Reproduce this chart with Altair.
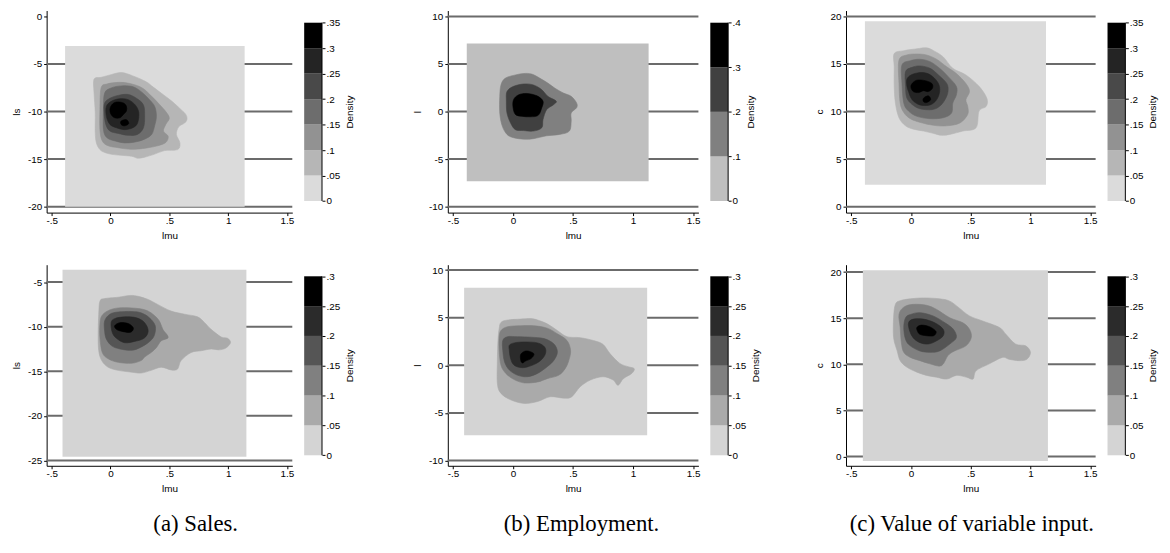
import altair as alt
import pandas as pd

# ---------------- shared axis values ----------------
X_TICKS = [-0.5, 0, 0.5, 1, 1.5]
X_DOMAIN = [-0.543, 1.545]
X_TITLE = "lmu"

LEVELS_35 = [0, 0.05, 0.1, 0.15, 0.2, 0.25, 0.3, 0.35]
LEVELS_40 = [0, 0.1, 0.2, 0.3, 0.4]
LEVELS_30 = [0, 0.05, 0.1, 0.15, 0.2, 0.25, 0.3]

GREYS_7 = ["#dbdbdb", "#b6b6b6", "#929292", "#6d6d6d", "#494949", "#242424", "#000000"]
GREYS_4 = ["#bfbfbf", "#808080", "#404040", "#000000"]
GREYS_6 = ["#d4d4d4", "#aaaaaa", "#808080", "#555555", "#2b2b2b", "#000000"]

CAPTIONS = ["(a) Sales.", "(b) Employment.", "(c) Value of variable input."]
Y_TITLES = ["ls", "l", "c"]

# ---------------- panel (a) top : ls ----------------
A_YTICKS = [0, -5, -10, -15, -20]
A_GRID = [-5, -10, -15, -20]
A_YDOM = [-20.625, 0.625]
A_RECT = [-0.386, 1.14, -20.0, -3.1]
A_C1 = [(-0.14, -6.6), (-0.08, -6.4), (0.01, -6.1), (0.08, -5.9), (0.135, -6.0), (0.19, -6.25), (0.26, -6.6),
        (0.32, -7.0), (0.36, -7.4), (0.43, -8.05), (0.52, -8.9), (0.60, -9.8), (0.64, -10.3), (0.65, -10.8),
        (0.63, -11.2), (0.58, -11.6), (0.56, -12.4), (0.59, -13.3), (0.57, -14.0), (0.46, -14.1), (0.37, -14.5),
        (0.29, -14.8), (0.23, -14.9), (0.18, -14.7), (0.09, -14.6), (0.01, -14.5), (-0.05, -14.3), (-0.09, -14.0),
        (-0.12, -13.3), (-0.13, -12.2), (-0.13, -10.1), (-0.14, -8.05)]
A_C2 = [(-0.08, -7.5), (-0.03, -7.1), (0.04, -6.95), (0.12, -6.95), (0.21, -7.2), (0.28, -7.6), (0.35, -8.4),
        (0.42, -9.3), (0.47, -10.0), (0.50, -10.7), (0.47, -11.35), (0.45, -12.05), (0.49, -12.6), (0.47, -13.25),
        (0.40, -13.6), (0.32, -13.8), (0.23, -13.95), (0.15, -13.95), (0.065, -13.8), (-0.02, -13.6),
        (-0.07, -13.1), (-0.09, -11.9), (-0.09, -9.8)]
A_C3 = [(-0.05, -8.05), (0.01, -7.5), (0.09, -7.3), (0.18, -7.35), (0.25, -7.8), (0.32, -8.6), (0.375, -9.45),
        (0.39, -10.5), (0.375, -11.5), (0.35, -12.4), (0.29, -12.9), (0.21, -13.2), (0.12, -13.3), (0.04, -13.1),
        (-0.03, -12.75), (-0.06, -11.9), (-0.06, -9.8)]
A_C4 = [(-0.05, -9.1), (-0.005, -8.6), (0.065, -8.3), (0.15, -8.2), (0.22, -8.6), (0.28, -9.3), (0.29, -10.5),
        (0.28, -11.7), (0.23, -12.4), (0.15, -12.5), (0.065, -12.3), (-0.005, -12.05), (-0.04, -11.35),
        (-0.055, -10.1)]
A_C5 = [(-0.035, -9.45), (0.01, -8.9), (0.08, -8.65), (0.15, -8.75), (0.21, -9.3), (0.24, -10.1), (0.23, -11.2),
        (0.19, -11.7), (0.12, -11.9), (0.05, -11.7), (-0.005, -11.35), (-0.035, -10.5)]
A_C6A = [(0.01, -9.3), (0.05, -9.0), (0.11, -9.1), (0.135, -9.45), (0.135, -9.95), (0.11, -10.3), (0.08, -10.65),
         (0.035, -10.65), (0.005, -10.3), (-0.005, -9.8)]
A_C6B = [(0.09, -11.0), (0.135, -10.85), (0.155, -11.25), (0.12, -11.5), (0.09, -11.35)]

# ---------------- panel (b) top : l ----------------
B_YTICKS = [10, 5, 0, -5, -10]
B_GRID = [10, 5, 0, -5, -10]
B_YDOM = [-10.625, 10.625]
B_RECT = [-0.385, 1.13, -7.33, 7.15]
B_C1 = [(-0.10, 2.8), (-0.065, 3.5), (0.02, 3.85), (0.09, 4.0), (0.155, 3.95), (0.225, 3.5), (0.29, 3.0),
        (0.35, 2.45), (0.42, 1.95), (0.485, 1.6), (0.53, 0.9), (0.53, 0.4), (0.485, -0.15), (0.485, -1.0),
        (0.47, -2.05), (0.39, -2.4), (0.28, -2.55), (0.17, -2.85), (0.09, -2.9), (0.005, -2.75), (-0.05, -2.4),
        (-0.09, -1.5), (-0.11, -0.15), (-0.11, 1.6)]
B_C2 = [(-0.05, 2.1), (0.005, 2.65), (0.09, 2.9), (0.17, 2.8), (0.24, 2.3), (0.29, 1.6), (0.36, 1.1),
        (0.335, 0.7), (0.28, 0.2), (0.25, -0.85), (0.24, -1.7), (0.17, -2.05), (0.09, -2.0), (0.02, -1.9),
        (-0.02, -1.2), (-0.05, -0.15), (-0.055, 1.1)]
B_C3 = [(0.005, 1.25), (0.045, 1.75), (0.115, 1.9), (0.2, 1.65), (0.25, 1.1), (0.24, 0.4), (0.21, -0.4),
        (0.145, -0.55), (0.075, -0.5), (0.02, -0.3), (0.0, 0.5)]

# ---------------- panel (c) top : c ----------------
C_YTICKS = [20, 15, 10, 5, 0]
C_GRID = [20, 15, 10, 5, 0]
C_YDOM = [-0.625, 20.625]
C_RECT = [-0.385, 1.13, 2.3, 19.5]
C_C1 = [(-0.14, 16.1), (-0.06, 16.4), (0.05, 16.6), (0.13, 16.7), (0.19, 16.4), (0.27, 15.75), (0.35, 14.55),
        (0.46, 13.85), (0.57, 12.65), (0.635, 11.4), (0.63, 10.55), (0.57, 10.05), (0.545, 8.3), (0.435, 7.95),
        (0.325, 7.6), (0.255, 7.5), (0.19, 7.7), (0.105, 7.95), (0.02, 8.15), (-0.045, 8.5), (-0.10, 9.35),
        (-0.13, 10.9), (-0.14, 12.65), (-0.14, 14.7)]
C_C2 = [(-0.10, 15.4), (-0.035, 15.95), (0.05, 16.05), (0.13, 15.95), (0.215, 15.5), (0.30, 14.7), (0.38, 14.0),
        (0.46, 12.95), (0.49, 12.1), (0.46, 11.25), (0.475, 10.55), (0.475, 9.7), (0.41, 8.8), (0.30, 8.5),
        (0.19, 8.55), (0.08, 8.85), (-0.005, 9.25), (-0.06, 9.9), (-0.09, 10.9), (-0.10, 13.0)]
C_C3 = [(-0.075, 14.9), (-0.005, 15.35), (0.075, 15.5), (0.16, 15.25), (0.24, 14.55), (0.31, 13.7), (0.38, 12.65),
        (0.38, 11.75), (0.35, 10.9), (0.34, 9.85), (0.27, 9.35), (0.16, 9.25), (0.05, 9.5), (-0.02, 10.05),
        (-0.06, 10.9), (-0.075, 13.0)]
C_C4 = [(-0.045, 14.2), (0.01, 14.65), (0.075, 14.8), (0.16, 14.55), (0.23, 13.85), (0.30, 12.95), (0.31, 12.1),
        (0.285, 11.25), (0.24, 10.55), (0.175, 10.2), (0.075, 10.3), (0.01, 10.75), (-0.035, 11.45),
        (-0.045, 12.65)]
C_C5 = [(-0.03, 13.5), (0.02, 13.95), (0.105, 14.1), (0.175, 13.75), (0.23, 12.95), (0.24, 12.1), (0.215, 11.25),
        (0.16, 10.7), (0.075, 10.7), (0.01, 11.25), (-0.02, 12.1), (-0.035, 12.8)]
C_C6A = [(0.01, 12.95), (0.05, 13.3), (0.12, 13.25), (0.175, 12.95), (0.18, 12.45), (0.145, 12.1), (0.105, 12.2),
         (0.065, 12.0), (0.02, 12.1), (0.0, 12.55)]
C_C6B = [(0.105, 11.4), (0.145, 11.65), (0.165, 11.25), (0.13, 10.95), (0.105, 11.05)]

# ---------------- panel (a) bottom : ls ----------------
D_YTICKS = [-5, -10, -15, -20, -25]
D_GRID = [-5, -10, -15, -20, -25]
D_YDOM = [-25.6, -3.05]
D_RECT = [-0.408, 1.155, -24.6, -3.63]
D_C1 = [(-0.09, -7.15), (-0.05, -6.85), (0.065, -6.7), (0.165, -6.5), (0.235, -6.6), (0.32, -6.95), (0.40, -7.5),
        (0.515, -8.25), (0.63, -8.6), (0.74, -8.9), (0.80, -9.55), (0.855, -10.3), (0.94, -11.15), (0.995, -11.3),
        (1.02, -11.8), (0.98, -12.4), (0.92, -12.6), (0.855, -12.5), (0.77, -12.7), (0.685, -12.9), (0.60, -13.8),
        (0.57, -14.75), (0.515, -14.85), (0.43, -14.55), (0.345, -14.9), (0.26, -15.2), (0.18, -15.1),
        (0.065, -14.9), (-0.02, -14.55), (-0.075, -13.8), (-0.10, -12.7), (-0.105, -10.85), (-0.10, -8.6)]
D_C2 = [(-0.075, -8.8), (-0.02, -8.2), (0.065, -7.9), (0.18, -7.9), (0.29, -8.1), (0.36, -8.6), (0.415, -9.35),
        (0.445, -10.3), (0.49, -11.2), (0.43, -11.6), (0.39, -12.35), (0.345, -12.9), (0.29, -13.4), (0.26, -13.8),
        (0.18, -14.1), (0.065, -14.0), (-0.02, -13.6), (-0.07, -12.9), (-0.09, -11.2), (-0.09, -9.75)]
D_C3 = [(-0.05, -9.35), (-0.005, -8.6), (0.065, -8.35), (0.18, -8.3), (0.26, -8.45), (0.33, -9.0), (0.38, -9.9),
        (0.37, -11.05), (0.32, -11.8), (0.25, -12.35), (0.18, -12.65), (0.08, -12.5), (0.01, -12.15),
        (-0.035, -11.4), (-0.05, -10.5)]
D_C4 = [(0.005, -9.55), (0.035, -9.1), (0.12, -8.9), (0.22, -9.0), (0.29, -9.55), (0.32, -10.5), (0.285, -11.3),
        (0.205, -11.65), (0.12, -11.8), (0.05, -11.3), (0.015, -10.65)]
D_C5 = [(0.035, -9.9), (0.08, -9.55), (0.15, -9.65), (0.19, -10.05), (0.19, -10.4), (0.16, -10.65), (0.09, -10.5),
        (0.05, -10.3)]

# ---------------- panel (b) bottom : l ----------------
E_YTICKS = [10, 5, 0, -5, -10]
E_GRID = [10, 5, 0, -5, -10]
E_YDOM = [-10.55, 10.56]
E_RECT = [-0.407, 1.118, -7.35, 8.15]
E_C1 = [(-0.10, 4.5), (-0.045, 4.75), (0.065, 4.85), (0.15, 4.9), (0.205, 4.75), (0.285, 4.35), (0.37, 3.65),
        (0.45, 3.0), (0.56, 2.9), (0.67, 2.6), (0.75, 2.2), (0.81, 1.2), (0.89, 0.2), (0.96, -0.15), (1.01, -0.35),
        (0.99, -0.85), (0.92, -1.4), (0.875, -2.1), (0.835, -1.55), (0.75, -1.2), (0.645, -1.55), (0.56, -2.25),
        (0.49, -3.3), (0.425, -3.45), (0.31, -3.3), (0.205, -3.8), (0.095, -4.0), (-0.015, -3.65), (-0.10, -2.95),
        (-0.13, -1.9), (-0.13, 0.5), (-0.125, 2.6), (-0.115, 3.85)]
E_C2 = [(-0.10, 3.65), (-0.045, 4.05), (0.065, 4.15), (0.175, 4.15), (0.285, 3.9), (0.37, 3.3), (0.45, 2.6),
        (0.48, 1.55), (0.465, 0.5), (0.435, -0.35), (0.38, -1.05), (0.285, -1.4), (0.205, -1.75), (0.095, -1.85),
        (0.01, -1.5), (-0.06, -0.85), (-0.10, 0.0), (-0.115, 1.55), (-0.115, 2.95)]
E_C3 = [(-0.085, 2.6), (-0.045, 3.0), (0.04, 3.0), (0.15, 2.95), (0.26, 2.8), (0.34, 2.25), (0.37, 1.4),
        (0.34, 0.5), (0.285, -0.15), (0.205, -0.85), (0.12, -1.2), (0.04, -1.05), (-0.03, -0.5), (-0.07, 0.35),
        (-0.085, 1.55)]
E_C4 = [(-0.03, 2.1), (0.01, 2.35), (0.095, 2.45), (0.205, 2.35), (0.265, 1.9), (0.27, 1.2), (0.23, 0.5),
        (0.16, 0.0), (0.08, -0.25), (0.01, 0.0), (-0.02, 0.7), (-0.03, 1.55)]
E_C5 = [(0.065, 1.15), (0.105, 1.5), (0.15, 1.4), (0.175, 1.15), (0.15, 0.7), (0.105, 0.45), (0.08, 0.25),
        (0.065, 0.5)]

# ---------------- panel (c) bottom : c ----------------
F_YTICKS = [20, 15, 10, 5, 0]
F_GRID = [20, 15, 10, 5, 0]
F_YDOM = [-1.0, 20.8]
F_RECT = [-0.402, 1.146, -0.47, 20.2]
F_C1 = [(-0.13, 16.5), (-0.09, 16.9), (-0.005, 17.1), (0.105, 17.2), (0.24, 17.1), (0.325, 16.85), (0.395, 16.2),
        (0.49, 15.25), (0.60, 14.7), (0.74, 14.0), (0.795, 13.25), (0.875, 12.2), (0.96, 12.0), (1.0, 11.3),
        (0.97, 10.55), (0.905, 10.4), (0.82, 10.55), (0.765, 10.75), (0.655, 10.05), (0.545, 9.3), (0.52, 8.4),
        (0.465, 8.6), (0.38, 8.8), (0.30, 8.4), (0.215, 8.6), (0.13, 8.8), (0.05, 9.15), (-0.035, 9.7),
        (-0.09, 10.4), (-0.115, 11.45), (-0.145, 12.9), (-0.145, 15.05)]
F_C2 = [(-0.10, 15.4), (-0.06, 16.2), (0.02, 16.5), (0.13, 16.4), (0.215, 15.95), (0.325, 15.05), (0.435, 14.5),
        (0.49, 13.8), (0.505, 12.9), (0.46, 12.0), (0.365, 11.45), (0.31, 10.95), (0.255, 9.85), (0.16, 10.05),
        (0.075, 10.4), (-0.005, 10.75), (-0.06, 11.3), (-0.08, 12.35), (-0.09, 14.0)]
F_C3 = [(-0.045, 15.05), (-0.005, 15.4), (0.075, 15.6), (0.185, 15.25), (0.285, 14.5), (0.355, 13.8), (0.38, 12.9),
        (0.325, 12.2), (0.24, 11.45), (0.16, 11.3), (0.075, 11.45), (-0.005, 12.0), (-0.045, 12.7), (-0.06, 14.0)]
F_C4 = [(-0.02, 14.5), (0.02, 14.9), (0.105, 14.9), (0.2, 14.5), (0.27, 13.8), (0.27, 13.1), (0.215, 12.55),
        (0.145, 12.2), (0.075, 12.35), (0.02, 12.85), (-0.01, 13.6)]
F_C5 = [(0.05, 14.0), (0.09, 14.25), (0.16, 14.05), (0.21, 13.55), (0.19, 13.1), (0.13, 13.1), (0.075, 13.25),
        (0.055, 13.6)]

# ---------------- layout / style constants ----------------
COL_W = [248, 253, 252]
ROW_H = [204, 203]
CB_W = 18
GAP = 12
CB_TOP = [12.3, 11.7]
CB_LEN = [180, 180.7]
ROW_GAP = 52.6
SPACER_W = [103, 94.6]
CAP_DX = [26.5, 8.5, 1.0]

FONT = "Liberation Sans Narrow, Liberation Sans, Arial, sans-serif"
TFONT = "Liberation Sans, Arial, sans-serif"
GRID_COLOR = "#6b6b6b"

LBL = ("datum.value == 0 ? '0' : (datum.value < 0 ? '-' : '') + "
       "(abs(datum.value) < 1 ? substring(format(abs(datum.value), '~g'), 1) "
       ": format(abs(datum.value), '~g'))")

AX = dict(labelFont=FONT, labelFontSize=10, labelColor="black", titleFont=TFONT, titleFontSize=10,
          titleFontWeight="normal", titleColor="black", domainColor="black", tickColor="black",
          domainWidth=1, tickWidth=1, grid=False)


def panel(ytitle, yticks, grid, ydom, rect, contours, colors, width, height, caption=None, cap_dx=0):
    xs = alt.Scale(domain=X_DOMAIN, nice=False, zero=False)
    ys = alt.Scale(domain=ydom, nice=False, zero=False)
    xaxis = alt.Axis(values=X_TICKS, labelExpr=LBL, title=X_TITLE, tickSize=3,
                     labelPadding=0, titlePadding=5, labelFlush=False, **AX)
    yaxis = alt.Axis(values=yticks, labelExpr=LBL, title=ytitle, tickSize=3,
                     labelPadding=2, titlePadding=6, **AX)

    gdf = pd.DataFrame({"g": grid})
    glines = alt.Chart(gdf).mark_rule(color=GRID_COLOR, strokeWidth=2).encode(
        y=alt.Y("g:Q", scale=ys, axis=yaxis))

    rdf = pd.DataFrame({"x0": [rect[0]], "x1": [rect[1]], "y0": [rect[2]], "y1": [rect[3]]})
    base = alt.Chart(rdf).mark_rect(color=colors[0]).encode(
        x=alt.X("x0:Q", scale=xs, axis=xaxis), x2="x1:Q",
        y=alt.Y("y0:Q", scale=ys, axis=yaxis), y2="y1:Q")

    layers = [glines, base]
    for li, polys in enumerate(contours, start=1):
        rows = []
        for pi, poly in enumerate(polys):
            for vi, (x, y) in enumerate(poly):
                rows.append({"poly": pi, "i": vi, "x": x, "y": y})
        df = pd.DataFrame(rows)
        layers.append(
            alt.Chart(df).mark_line(filled=True, fill=colors[li], stroke=colors[li], strokeWidth=0.6,
                                    interpolate="cardinal-closed").encode(
                x=alt.X("x:Q", scale=xs, axis=xaxis),
                y=alt.Y("y:Q", scale=ys, axis=yaxis),
                order=alt.Order("i:Q"),
                detail="poly:N"))
    ch = alt.layer(*layers).properties(width=width, height=height)
    if caption is not None:
        ch = ch.properties(title=alt.TitleParams(
            caption, orient="bottom", anchor="middle", frame="group", dx=cap_dx, offset=20,
            font="Liberation Serif", fontSize=23, fontWeight="normal", color="black"))
    return ch


def colorbar(levels, colors, height, top_off, length):
    mx = levels[-1]
    per = mx / length
    dom = [-(height - top_off - length) * per, mx + top_off * per]
    ys = alt.Scale(domain=dom, nice=False, zero=False)
    xs = alt.Scale(domain=[0, 1], nice=False, zero=False)
    yaxis = alt.Axis(orient="right", values=levels, labelExpr=LBL, title="Density", titleAngle=270,
                     titleBaseline="top", domain=False, tickSize=3, labelPadding=1, titlePadding=5, **AX)
    df = pd.DataFrame({"lo": levels[:-1], "hi": levels[1:], "c": colors,
                       "x0": [0] * len(colors), "x1": [1] * len(colors)})
    bars = alt.Chart(df).mark_rect().encode(
        x=alt.X("x0:Q", scale=xs, axis=None), x2="x1:Q",
        y=alt.Y("lo:Q", scale=ys, axis=yaxis), y2="hi:Q",
        color=alt.Color("c:N", scale=None))
    ldf = pd.DataFrame({"x": [1], "a": [0], "b": [mx]})
    edge = alt.Chart(ldf).mark_rule(color="black", strokeWidth=1).encode(
        x=alt.X("x:Q", scale=xs, axis=None),
        y=alt.Y("a:Q", scale=ys, axis=yaxis), y2="b:Q")
    return alt.layer(bars, edge).properties(width=CB_W, height=height)


def spacer(w):
    return alt.Chart(pd.DataFrame({"v": [0]})).mark_point(opacity=0).encode(
        x=alt.X("v:Q", axis=None), y=alt.Y("v:Q", axis=None)).properties(width=w, height=10)


pa = panel(Y_TITLES[0], A_YTICKS, A_GRID, A_YDOM, A_RECT,
           [[A_C1], [A_C2], [A_C3], [A_C4], [A_C5], [A_C6A, A_C6B]], GREYS_7, COL_W[0], ROW_H[0])
pb = panel(Y_TITLES[1], B_YTICKS, B_GRID, B_YDOM, B_RECT, [[B_C1], [B_C2], [B_C3]], GREYS_4, COL_W[1], ROW_H[0])
pc = panel(Y_TITLES[2], C_YTICKS, C_GRID, C_YDOM, C_RECT,
           [[C_C1], [C_C2], [C_C3], [C_C4], [C_C5], [C_C6A, C_C6B]], GREYS_7, COL_W[2], ROW_H[0])
pd_ = panel(Y_TITLES[0], D_YTICKS, D_GRID, D_YDOM, D_RECT, [[D_C1], [D_C2], [D_C3], [D_C4], [D_C5]],
            GREYS_6, COL_W[0], ROW_H[1], CAPTIONS[0], CAP_DX[0])
pe = panel(Y_TITLES[1], E_YTICKS, E_GRID, E_YDOM, E_RECT, [[E_C1], [E_C2], [E_C3], [E_C4], [E_C5]],
           GREYS_6, COL_W[1], ROW_H[1], CAPTIONS[1], CAP_DX[1])
pf = panel(Y_TITLES[2], F_YTICKS, F_GRID, F_YDOM, F_RECT, [[F_C1], [F_C2], [F_C3], [F_C4], [F_C5]],
           GREYS_6, COL_W[2], ROW_H[1], CAPTIONS[2], CAP_DX[2])

cba = colorbar(LEVELS_35, GREYS_7, ROW_H[0], CB_TOP[0], CB_LEN[0])
cbb = colorbar(LEVELS_40, GREYS_4, ROW_H[0], CB_TOP[0], CB_LEN[0])
cbc = colorbar(LEVELS_35, GREYS_7, ROW_H[0], CB_TOP[0], CB_LEN[0])
cbd = colorbar(LEVELS_30, GREYS_6, ROW_H[1], CB_TOP[1], CB_LEN[1])
cbe = colorbar(LEVELS_30, GREYS_6, ROW_H[1], CB_TOP[1], CB_LEN[1])
cbf = colorbar(LEVELS_30, GREYS_6, ROW_H[1], CB_TOP[1], CB_LEN[1])

cells = [pa, cba, spacer(SPACER_W[0]), pb, cbb, spacer(SPACER_W[1]), pc, cbc,
         pd_, cbd, spacer(SPACER_W[0]), pe, cbe, spacer(SPACER_W[1]), pf, cbf]

chart = alt.concat(
    *cells, columns=8, spacing={"row": ROW_GAP, "column": GAP}, bounds="flush", align="each"
).properties(
    padding={"left": 3, "top": 0, "right": 4, "bottom": 4},
    background="white"
).configure_view(
    stroke="transparent", strokeWidth=0
)

chart.save("out.html", embed_options={"renderer": "svg", "actions": False})
